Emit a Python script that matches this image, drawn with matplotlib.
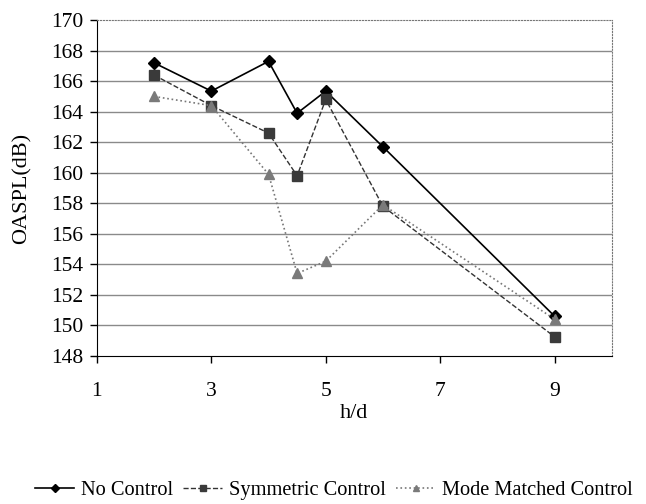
import matplotlib
matplotlib.use('Agg')
import matplotlib.pyplot as plt

plt.rcParams['font.family'] = ['Liberation Serif', 'DejaVu Serif']

# data
hd = [2, 3, 4, 4.5, 5, 6, 9]
no_control = [167.2, 165.35, 167.3, 163.9, 165.35, 161.7, 150.6]
symmetric = [166.4, 164.4, 162.6, 159.8, 164.8, 157.8, 149.25]
mode_matched = [165.0, 164.4, 159.9, 153.4, 154.2, 157.9, 150.4]

xticks = [1, 3, 5, 7, 9]
yticks = list(range(148, 171, 2))

fig = plt.figure(figsize=(6.46, 5.04), dpi=100)
ax = fig.add_axes([0.150, 0.294, 0.797, 0.666])

for y in yticks[1:-1]:
    ax.axhline(y, color='#8a8a8a', lw=1.0, zorder=0)

ax.plot(hd, no_control, '-', color='black', lw=1.2, marker='D', ms=6,
        mfc='black', mec='black', label='No Control')
ax.plot(hd, symmetric, '--', color='#333333', lw=1.0, marker='s', ms=7,
        mfc='#3a3a3a', mec='#3a3a3a', label='Symmetric Control')
ax.plot(hd, mode_matched, ':', color='#777777', lw=1.2, marker='^', ms=7,
        mfc='#7a7a7a', mec='#7a7a7a', label='Mode Matched Control')

ax.set_xlim(1, 10)
ax.set_ylim(148, 170)
ax.set_xticks(xticks)
ax.set_yticks(yticks)
ax.tick_params(labelsize=15.5, direction='out', length=5, width=1)
ax.tick_params(axis='x', pad=14)
ax.tick_params(axis='y', pad=5)

for s in ['top', 'right']:
    ax.spines[s].set_linestyle(':')
    ax.spines[s].set_color('#777777')
for s in ['left', 'bottom']:
    ax.spines[s].set_color('black')

ax.set_xlabel('h/d', fontsize=16, labelpad=2)
ax.set_ylabel('OASPL(dB)', fontsize=16, labelpad=14)

fig.legend(loc='center', bbox_to_anchor=(334 / 646, 1 - 490 / 504), ncol=3,
           frameon=False, fontsize=14.7, handlelength=1.9, handletextpad=0.34,
           columnspacing=0.5, markerscale=0.7, borderaxespad=0, borderpad=0)

fig.savefig('out.png', dpi=100)
